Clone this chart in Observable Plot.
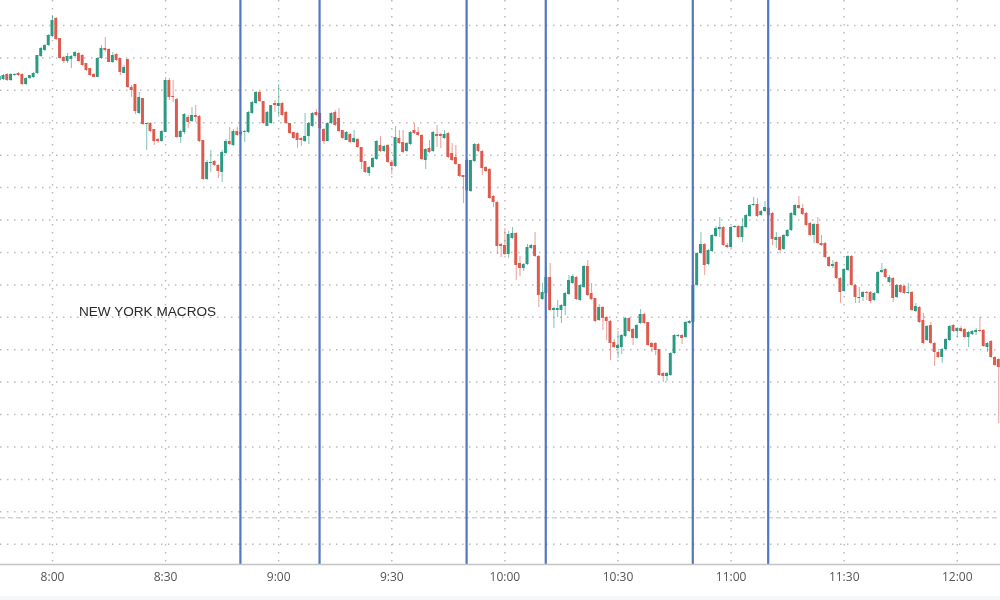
<!DOCTYPE html>
<html>
<head>
<meta charset="utf-8">
<script src="https://cdn.jsdelivr.net/npm/d3@7"></script>
<script src="https://cdn.jsdelivr.net/npm/@observablehq/plot@0.6"></script>
<style>
html,body{margin:0;padding:0;background:#fff;overflow:hidden}
</style>
</head>
<body>
<div id="chart"></div>
<script>
const firstMinute = -14; // minutes relative to 8:00
const openP = [
520,521,526,520,525,527,526,516,522,523,
527,544,550,555,564,582,562,543,539,541,
544,547,545,537,532,526,523,542,552,551,
538,546,542,527,541,513,516,487,502,476,
477,471,461,459,468,520,504,501,463,468,
483,479,485,484,460,421,437,439,435,428,
447,459,455,469,468,468,468,487,497,508,
499,474,477,497,494,497,488,477,468,467,
462,459,464,474,488,487,471,459,477,488,
482,470,460,466,458,461,453,439,427,433,
441,455,449,455,438,434,462,458,449,456,
470,468,465,440,452,449,466,466,462,467,
447,443,436,425,410,409,439,456,449,433,
431,404,398,356,355,346,362,367,337,332,
336,352,355,344,301,307,323,290,290,290,
294,306,317,323,300,313,334,307,302,280,
293,283,279,258,252,253,264,282,271,262,
277,286,278,257,257,251,227,224,225,247,
264,265,263,277,278,315,347,356,336,349,
364,371,373,355,353,373,374,363,373,384,
395,396,385,389,392,387,360,363,351,364,
370,385,395,392,387,377,365,376,357,357,
343,334,338,322,309,330,344,315,302,303,
308,308,300,307,328,331,318,322,303,315,
314,307,308,289,293,280,260,275,257,248,
243,251,260,275,269,272,271,263,266,268,
270,270,253,259,243,241
];
const closeP = [
524,525,520,526,526,525,516,522,525,527,
545,552,555,565,580,561,542,539,544,544,
548,539,535,530,525,523,542,552,550,538,
545,540,528,533,513,510,489,503,476,477,
469,459,459,469,520,503,503,463,469,486,
478,485,483,459,421,438,438,435,429,448,
459,456,469,465,466,469,488,498,508,499,
477,488,495,495,497,485,477,467,462,460,
460,464,477,487,485,472,459,477,487,475,
469,462,468,458,462,453,438,428,433,442,
459,449,454,438,434,463,457,448,457,468,
467,465,441,451,448,468,464,464,466,443,
440,436,424,423,440,440,456,449,432,429,
402,398,354,354,346,366,367,335,332,336,
353,355,344,305,308,323,290,292,292,295,
307,320,324,301,315,334,305,301,279,293,
282,279,257,253,255,265,282,269,262,275,
286,277,255,253,250,225,224,227,247,265,
265,262,278,279,315,347,356,335,350,365,
372,373,355,353,373,374,363,374,385,395,
396,384,389,393,385,361,363,350,365,370,
387,395,392,386,375,365,376,357,355,343,
334,336,322,308,331,344,315,303,303,308,
307,299,307,328,330,323,323,302,315,308,
307,308,290,294,278,257,274,257,248,243,
251,261,274,269,272,269,263,268,269,270,
269,254,257,243,235,233
];
const highP = [
525,526,527,527,527,528,527,523,525,528,
545,553,556,566,585,583,562,544,547,545,
549,548,546,537,532,527,543,555,563,552,
548,547,542,535,541,515,516,508,502,477,
478,471,462,470,523,522,520,502,470,487,
485,493,495,485,460,440,450,440,436,450,
461,473,471,473,470,470,489,499,509,509,
499,489,495,500,516,498,489,477,468,468,
463,487,478,488,491,487,472,478,488,490,
492,470,469,467,470,462,453,439,434,443,
460,464,455,456,439,474,470,470,458,469,
477,473,466,452,460,469,475,467,470,468,
457,455,436,425,441,440,457,457,450,434,
432,405,399,357,372,369,373,368,344,337,
356,356,368,345,317,334,337,293,300,296,
308,325,326,324,316,335,340,317,302,296,
294,284,280,261,269,266,283,283,272,276,
291,287,278,258,258,251,228,228,248,266,
266,266,279,280,316,348,368,357,351,366,
374,383,374,357,374,375,375,382,386,396,
403,402,390,399,393,388,368,364,366,371,
388,396,404,396,388,378,377,383,365,358,
344,340,339,323,332,345,345,316,313,309,
309,309,308,329,337,332,325,323,316,316,
315,317,309,297,294,287,275,278,258,249,
252,262,275,276,273,274,272,269,270,272,
283,271,258,260,244,242
];
const lowP = [
519,520,519,519,524,524,515,515,521,522,
526,543,549,554,563,560,541,537,537,532,
542,538,534,529,524,523,523,541,548,538,
537,539,525,527,512,503,486,486,475,450,
468,455,457,458,468,500,498,462,457,466,
472,478,478,458,420,420,428,434,422,418,
446,455,454,464,464,458,467,486,496,498,
476,474,476,488,483,484,476,466,461,452,
454,458,456,473,484,471,456,459,476,474,
468,461,460,457,457,452,431,427,424,432,
440,448,448,437,426,433,456,447,448,455,
466,464,440,431,447,448,453,452,461,442,
439,435,423,397,409,408,438,448,425,428,
401,393,346,343,345,342,361,320,324,329,
335,351,343,293,300,306,289,272,283,277,
285,305,316,300,299,312,304,300,278,279,
270,260,240,252,242,246,263,268,255,261,
276,276,254,248,245,224,218,219,224,246,
263,256,262,276,277,314,346,325,335,348,
363,363,354,352,352,372,362,358,372,383,
394,383,384,388,384,355,352,347,350,363,
369,384,391,385,374,364,357,356,354,342,
333,332,321,297,308,329,314,297,297,299,
300,297,299,306,327,322,317,298,302,307,
306,306,289,288,277,256,259,256,234,242,
237,250,259,268,263,268,262,253,265,265,
268,253,248,242,234,177
];
const gridLevels = [575,542.6,510.2,477.7,445.3,412.9,380.5,348.1,315.6,283.2,250.8,218.4,186,153.5,121.1,88.7,56.3];
const priorClose = 82.7;
const macroStarts = [50,71,110,131,170,190];
const tickMinutes = [0,30,60,90,120,150,180,210,240];
const tickLabels = ["8:00","8:30","9:00","9:30","10:00","10:30","11:00","11:30","12:00"];
const noteText = "NEW YORK MACROS";

const green = "#2b9a82", red = "#dc5a4e";
const candles = openP.map((o,k)=>({m:firstMinute+k,o,c:closeP[k],h:highP[k],l:lowP[k]}));
const col = d => d.c >= d.o ? green : red;

const plot = Plot.plot({
  width:1000, height:600,
  marginLeft:0, marginRight:0, marginTop:0, marginBottom:36,
  style:{background:"linear-gradient(#fff 596px,#f6f7f9 596px)", overflow:"hidden", filter:"blur(0.35px)"},
  x:{type:"linear", domain:[-13.793,251.46], axis:null},
  y:{type:"linear", domain:[36,600], axis:null},
  marks:[
    Plot.ruleY(gridLevels,{stroke:"#bcbcbc",strokeWidth:1.5,strokeDasharray:"1.5 5.5"}),
    Plot.ruleX(tickMinutes,{stroke:"#bcbcbc",strokeWidth:1.5,strokeDasharray:"1.5 6.5"}),
    Plot.ruleY([priorClose],{stroke:"#bdbdbd",strokeWidth:1,strokeDasharray:"5 3"}),
    Plot.ruleX(candles,{x:"m",y1:"l",y2:"h",stroke:col,strokeWidth:1,strokeOpacity:0.6}),
    Plot.rect(candles,{x1:d=>d.m-0.39,x2:d=>d.m+0.39,y1:d=>Math.min(d.o,d.c),y2:d=>Math.max(d.o,d.c),fill:col,inset:0}),
    Plot.ruleX(macroStarts,{stroke:"#4a6fbd",strokeWidth:2.2,strokeOpacity:0.95,dx:-0.6}),
    Plot.ruleY([36],{stroke:"#c4c4c4",strokeWidth:1.5}),
    Plot.text([noteText],{frameAnchor:"top-left",dx:147,dy:306,textAnchor:"middle",fill:"#2a2a2a",fontSize:13.6,fontFamily:"Liberation Sans"}),
    Plot.axisX({ticks:tickMinutes,tickFormat:d=>tickLabels[tickMinutes.indexOf(d)],tickSize:0,tickPadding:8,fontSize:12,fontFamily:"Open Sans",color:"#555",anchor:"bottom",label:null})
  ]
});
document.getElementById("chart").appendChild(plot);
</script>
</body>
</html>
